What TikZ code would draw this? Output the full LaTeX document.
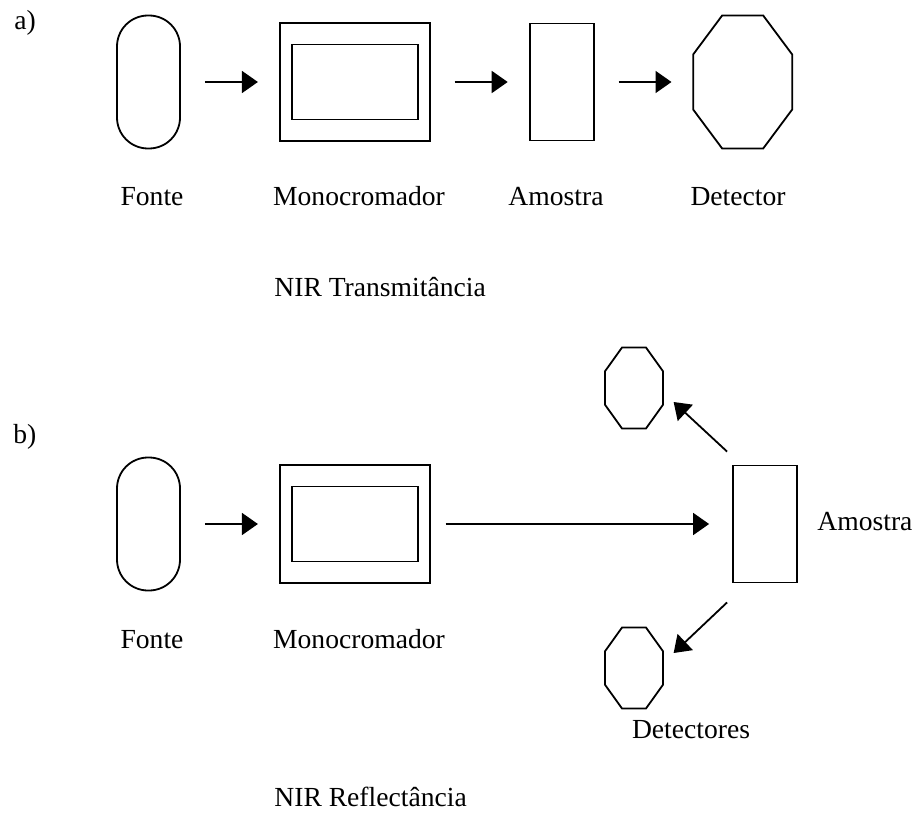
\documentclass[tikz,border=0pt]{standalone}
\usepackage{fontspec}
\setmainfont{Liberation Serif}
\usetikzlibrary{positioning,shapes.geometric,arrows.meta}

\begin{document}
\begin{tikzpicture}[
    x=0.5pt, y=-0.5pt,
    node distance=49pt,
    font=\fontsize{13.8}{16}\selectfont,
    lamp/.style={
      rectangle,
      rounded corners=15.5pt,
      draw=black,
      line width=0.9pt,
      minimum width=31.5pt,
      minimum height=66.5pt,
      inner sep=0pt
    },
    monobox/.style={
      rectangle, draw=black, line width=0.9pt,
      minimum width=75pt, minimum height=59pt, inner sep=0pt
    },
    monoinner/.style={
      rectangle, draw=black, line width=0.9pt,
      minimum width=63pt, minimum height=37.5pt, inner sep=0pt
    },
    cell/.style={
      rectangle, draw=black, line width=0.9pt,
      minimum width=32pt, minimum height=58.5pt, inner sep=0pt
    },
    detector/.style={
      regular polygon, regular polygon sides=8,
      draw=black, line width=0.9pt, inner sep=0pt,
      minimum size=72pt, xscale=0.744
    },
    minidet/.style={
      regular polygon, regular polygon sides=8,
      draw=black, line width=0.9pt, inner sep=0pt,
      minimum size=43.8pt, xscale=0.716
    },
    lbl/.style={anchor=base, inner sep=0pt},
    tip/.style={-{Triangle[length=8pt, width=11pt]}, line width=0.9pt},
    arrow/.style={tip, shorten <=12pt, shorten >=10.5pt}
  ]
    \useasboundingbox (0,0) rectangle (915,813);

    % a) transmission
    \node[lbl, anchor=base west] (tagA) at (14,30) {a)};
    \node[lamp] (srcA) at (148.5,82) {};
    \node[monobox, right=of srcA] (monoA) {};
    \node[monoinner] (monoAin) at (monoA.center) {};
    \node[cell, right=of monoA] (sampA) {};
    \node[detector, right=of sampA] (detA) {};

    \draw[arrow] (srcA) -- (monoA);
    \draw[arrow] (monoA) -- (sampA);
    \draw[arrow] (sampA) -- (detA);

    \node[lbl] (txtSrcA) at (152,205) {Fonte};
    \node[lbl] (txtMonoA) at (359,205) {Monocromador};
    \node[lbl] (txtSampA) at (556,205) {Amostra};
    \node[lbl] (txtDetA) at (738,205) {Detector};
    \node[lbl, anchor=base west] (modeA) at (274,296) {NIR Transmitância};

    % b) reflection
    \node[lbl, anchor=base west] (tagB) at (13,443) {b)};
    \node[lamp] (srcB) at (148.5,524) {};
    \node[monobox, right=of srcB] (monoB) {};
    \node[monoinner] (monoBin) at (monoB.center) {};
    \node[cell] (sampB) at (765,524) {};
    \node[minidet] (detUp) at (634,388) {};
    \node[minidet] (detDown) at (634,668) {};

    \draw[arrow] (srcB) -- (monoB);
    \draw[tip, shorten <=7.5pt, shorten >=11.5pt] (monoB) -- (sampB);
    \draw[tip] ([shift={(-2.5pt,6.5pt)}]sampB.north west) -- ([shift={(5pt,-7pt)}]detUp.east);
    \draw[tip] ([shift={(-2.5pt,-9.5pt)}]sampB.south west) -- ([shift={(5pt,7.5pt)}]detDown.east);

    \node[lbl] (txtSrcB) at (152,648) {Fonte};
    \node[lbl] (txtMonoB) at (359,648) {Monocromador};
    \node[lbl, anchor=base west] (txtSampB) at (817,530) {Amostra};
    \node[lbl] (txtDetB) at (691,738) {Detectores};
    \node[lbl, anchor=base west] (modeB) at (274,806) {NIR Reflectância};
\end{tikzpicture}
\end{document}
